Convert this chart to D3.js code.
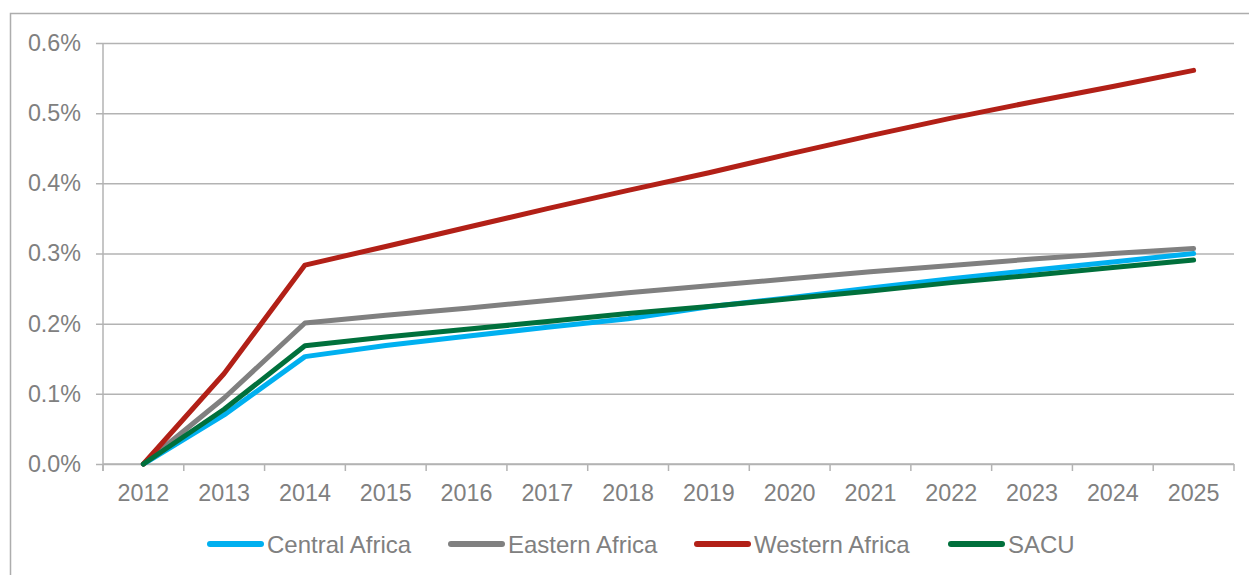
<!DOCTYPE html>
<html>
<head>
<meta charset="utf-8">
<script src="https://cdn.jsdelivr.net/npm/d3@7"></script>
<style>
  html, body { margin: 0; padding: 0; background: #fff; }
  svg { display: block; font-family: "Liberation Sans", Arial, sans-serif; }
</style>
</head>
<body>
<svg id="chart" width="1249" height="575"></svg>
<script>
const years = ["2012","2013","2014","2015","2016","2017","2018","2019","2020","2021","2022","2023","2024","2025"];
const centralAfrica = [0, 0.070, 0.153, 0.169, 0.182, 0.195, 0.207, 0.224, 0.237, 0.251, 0.264, 0.276, 0.288, 0.300];
const easternAfrica = [0, 0.094, 0.201, 0.212, 0.222, 0.233, 0.244, 0.254, 0.264, 0.274, 0.283, 0.292, 0.300, 0.307];
const westernAfrica = [0, 0.129, 0.2835, 0.310, 0.337, 0.364, 0.390, 0.415, 0.442, 0.468, 0.493, 0.516, 0.538, 0.561];
const sacu = [0, 0.078, 0.1685, 0.181, 0.192, 0.203, 0.2145, 0.2245, 0.2355, 0.2465, 0.2585, 0.269, 0.280, 0.2906];
const yTicks = [0, 0.1, 0.2, 0.3, 0.4, 0.5, 0.6];
const seriesNames = ["Central Africa", "Eastern Africa", "Western Africa", "SACU"];
const seriesValues = [centralAfrica, easternAfrica, westernAfrica, sacu];
const seriesColors = ["#00B0F0", "#808080", "#B22017", "#00703C"];

const svg = d3.select("#chart");
const L = 103, R = 1234, T = 43, B = 464;
const gridColor = "#B3B3B3";
const textColor = "#808080";

// outer frame (left & top visible)
svg.append("path")
  .attr("d", "M10.5,575 L10.5,13.5 L1249,13.5")
  .attr("fill", "none").attr("stroke", "#ADADAD").attr("stroke-width", 1.5);

const x = d3.scaleBand().domain(years).range([L, R]).padding(0);
const y = d3.scaleLinear().domain([0, 0.6]).range([B, T]);

// y grid + ticks
const yAxis = d3.axisLeft(y).tickValues(yTicks)
  .tickFormat(d => d.toFixed(1) + "%")
  .tickSize(-(R - L)).tickPadding(15);
const gy = svg.append("g").attr("transform", `translate(${L},0)`).call(yAxis);
gy.select(".domain").remove();
gy.selectAll(".tick line").attr("stroke", gridColor).attr("stroke-width", 1.5)
  .attr("x1", -7).attr("x2", R - L);
gy.selectAll(".tick text").attr("fill", textColor).attr("font-size", 23.3)
  .attr("font-family", "Liberation Sans, Arial, sans-serif").attr("x", -22);

// y axis line
svg.append("line").attr("x1", L).attr("x2", L).attr("y1", T).attr("y2", B + 7)
  .attr("stroke", gridColor).attr("stroke-width", 1.5);

// x axis ticks at band boundaries
const boundaries = years.map(d => x(d)).concat([R]);
svg.append("g").selectAll("line").data(boundaries).join("line")
  .attr("x1", d => d).attr("x2", d => d).attr("y1", B).attr("y2", B + 7)
  .attr("stroke", gridColor).attr("stroke-width", 1.5);
svg.append("line").attr("x1", L).attr("x2", R).attr("y1", B).attr("y2", B)
  .attr("stroke", gridColor).attr("stroke-width", 1.5);

// x labels
svg.append("g").selectAll("text").data(years).join("text")
  .attr("x", d => x(d) + x.bandwidth() / 2)
  .attr("y", B + 37)
  .attr("text-anchor", "middle")
  .attr("fill", textColor).attr("font-size", 23.3)
  .text(d => d);

// lines
const cx = d => x(d) + x.bandwidth() / 2;
const line = d3.line().x((v, i) => cx(years[i])).y(v => y(v));
svg.append("g").selectAll("path").data(seriesValues).join("path")
  .attr("d", d => line(d))
  .attr("fill", "none")
  .attr("stroke", (d, i) => seriesColors[i])
  .attr("stroke-width", 5)
  .attr("stroke-linecap", "round")
  .attr("stroke-linejoin", "round");

// legend
const legendX = [210, 451, 697, 951];
const legendY = 544;
const lg = svg.append("g").selectAll("g").data(seriesNames).join("g")
  .attr("transform", (d, i) => `translate(${legendX[i]},${legendY})`);
lg.append("line").attr("x1", 0).attr("x2", 51).attr("y1", 0).attr("y2", 0)
  .attr("stroke", (d, i) => seriesColors[i]).attr("stroke-width", 6)
  .attr("stroke-linecap", "round");
lg.append("text").attr("x", 57).attr("y", 8.5)
  .attr("fill", textColor).attr("font-size", 24)
  .text(d => d);
</script>
</body>
</html>
